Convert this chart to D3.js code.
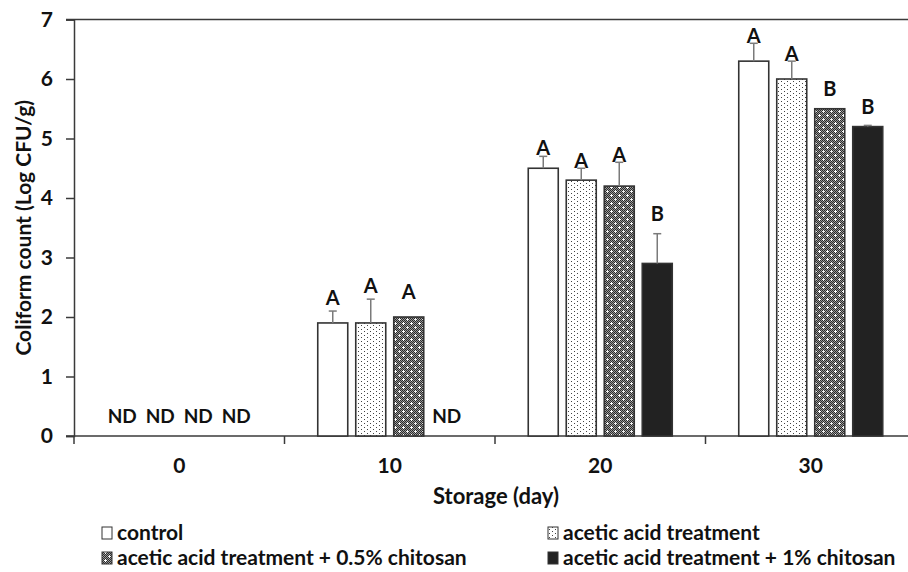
<!DOCTYPE html>
<html><head><meta charset="utf-8">
<script src="https://cdn.jsdelivr.net/npm/d3@7"></script>
<style>
html,body{margin:0;padding:0;background:#fff;}
svg{display:block;}
text{font-family:Lato,"Open Sans",sans-serif;font-weight:bold;fill:#111;}
</style></head><body>
<svg id="c" width="908" height="572"></svg>
<script>
// ---- data ----
const days = ["0", "10", "20", "30"];
const series = ["control", "acetic acid treatment", "acetic acid treatment + 0.5% chitosan", "acetic acid treatment + 1% chitosan"];
// null = not detected (ND)
const control   = [null, 1.9, 4.5, 6.3];
const acetic    = [null, 1.9, 4.3, 6.0];
const chit05    = [null, 2.0, 4.2, 5.5];
const chit1     = [null, null, 2.9, 5.2];
const controlErr = [null, 0.2, 0.2, 0.3];
const aceticErr  = [null, 0.4, 0.2, 0.3];
const chit05Err  = [null, 0.0, 0.4, 0.0];
const chit1Err   = [null, null, 0.5, 0.02];
// significance letters and the level (log CFU/g) they sit at
const controlLetters = ["ND", "A", "A", "A"];
const aceticLetters  = ["ND", "A", "A", "A"];
const chit05Letters  = ["ND", "A", "A", "B"];
const chit1Letters   = ["ND", "ND", "B", "B"];
const controlLetterAt = [0, 2.20, 4.72, 6.60];
const aceticLetterAt  = [0, 2.41, 4.50, 6.31];
const chit05LetterAt  = [0, 2.30, 4.60, 5.72];
const chit1LetterAt   = [0, 0, 3.61, 5.42];
const yTicks = [0, 1, 2, 3, 4, 5, 6, 7];
const yTitle = "Coliform count (Log CFU/g)";
const xTitle = "Storage (day)";

(function () {
const values = [control, acetic, chit05, chit1];
const errs = [controlErr, aceticErr, chit05Err, chit1Err];
const letters = [controlLetters, aceticLetters, chit05Letters, chit1Letters];
const letterAt = [controlLetterAt, aceticLetterAt, chit05LetterAt, chit1LetterAt];

const svg = d3.select("#c");
const pLeft = 74, pRight = 916, pTop = 19.5, pBottom = 436;
const axisColor = "#3a3a3a";

const x0 = d3.scaleBand().domain(days).range([pLeft, pRight]);
const x1 = d3.scaleBand().domain(series).range([0, x0.bandwidth()]).paddingInner(8/38).paddingOuter(0.875);
const y = d3.scaleLinear().domain([0, 7]).range([pBottom, pTop]);

// ---- patterns ----
const defs = svg.append("defs");
const pDots = defs.append("pattern").attr("id", "dots").attr("patternUnits", "userSpaceOnUse")
  .attr("width", 6).attr("height", 4);
pDots.append("rect").attr("width", 6).attr("height", 4).attr("fill", "#fff");
pDots.append("rect").attr("x", 1).attr("y", 1).attr("width", 1).attr("height", 1).attr("fill", "#444");
pDots.append("rect").attr("x", 4).attr("y", 3).attr("width", 1).attr("height", 1).attr("fill", "#444");

const pChk = defs.append("pattern").attr("id", "chk").attr("patternUnits", "userSpaceOnUse")
  .attr("width", 8).attr("height", 8);
pChk.append("rect").attr("width", 8).attr("height", 8).attr("fill", "#9a9a9a");
const cells = [];
for (let i = 0; i < 8; i++) for (let j = 0; j < 8; j++) if ((i + j) % 2 === 0) cells.push([i, j]);
pChk.selectAll("rect.c").data(cells).enter().append("rect").attr("class", "c")
  .attr("x", d => d[0]).attr("y", d => d[1]).attr("width", 1).attr("height", 1).attr("fill", "#2a2a2a");
const plus = [[3,2],[2,3],[3,3],[4,3],[3,4]];
pChk.selectAll("rect.p").data(plus).enter().append("rect").attr("class", "p")
  .attr("x", d => d[0]).attr("y", d => d[1]).attr("width", 1).attr("height", 1).attr("fill", "#fff");
const plus2 = [[7,6],[6,7],[7,7],[0,7],[7,0]];
pChk.selectAll("rect.q").data(plus2).enter().append("rect").attr("class", "q")
  .attr("x", d => d[0]).attr("y", d => d[1]).attr("width", 1).attr("height", 1).attr("fill", "#eee");

const fills = ["#ffffff", "url(#dots)", "url(#chk)", "#222222"];

// ---- axes ----
svg.append("line").attr("x1", 66).attr("x2", 908).attr("y1", y(7)).attr("y2", y(7))
  .attr("stroke", axisColor).attr("stroke-width", 1.5);

const yAxis = svg.append("g").attr("transform", `translate(${pLeft},0)`)
  .call(d3.axisLeft(y).tickValues(yTicks).tickSize(8).tickPadding(13).tickFormat(d3.format("d")));
yAxis.select(".domain").attr("stroke", axisColor).attr("stroke-width", 1.5);
yAxis.selectAll(".tick line").attr("stroke", axisColor).attr("stroke-width", 1.5);
yAxis.selectAll(".tick text").attr("font-size", 21).attr("font-family", "Lato").attr("font-weight", "bold").attr("fill", "#111");

const xAxis = svg.append("g").attr("transform", `translate(0,${pBottom})`)
  .call(d3.axisBottom(x0).tickSize(0).tickPadding(22));
xAxis.select(".domain").remove();
xAxis.selectAll(".tick text").attr("font-size", 21).attr("font-family", "Lato").attr("font-weight", "bold").attr("fill", "#111");
svg.append("line").attr("x1", 66).attr("x2", 908).attr("y1", pBottom).attr("y2", pBottom)
  .attr("stroke", axisColor).attr("stroke-width", 1.5);
svg.selectAll("line.bt").data(days).enter().append("line").attr("class", "bt")
  .attr("x1", d => x0(d)).attr("x2", d => x0(d)).attr("y1", pBottom).attr("y2", pBottom + 8)
  .attr("stroke", axisColor).attr("stroke-width", 1.5);

// ---- bars ----
const flat = [];
days.forEach((d, di) => series.forEach((s, si) => {
  flat.push({day: d, s, si, v: values[si][di], e: errs[si][di], l: letters[si][di], la: letterAt[si][di]});
}));
const bars = flat.filter(d => d.v !== null);
const cx = d => x0(d.day) + x1(d.s) + x1.bandwidth() / 2;

svg.append("g").selectAll("rect").data(bars).enter().append("rect")
  .attr("x", d => x0(d.day) + x1(d.s)).attr("width", x1.bandwidth())
  .attr("y", d => y(d.v)).attr("height", d => y(0) - y(d.v))
  .attr("fill", d => fills[d.si]).attr("stroke", "#333").attr("stroke-width", 1.6);

const eb = svg.append("g").selectAll("g").data(bars.filter(d => d.e > 0)).enter().append("g");
eb.append("line").attr("x1", cx).attr("x2", cx)
  .attr("y1", d => y(d.v)).attr("y2", d => y(d.v + d.e))
  .attr("stroke", "#7a7a7a").attr("stroke-width", 1.5);
eb.append("line").attr("x1", d => cx(d) - 4).attr("x2", d => cx(d) + 4)
  .attr("y1", d => y(d.v + d.e)).attr("y2", d => y(d.v + d.e))
  .attr("stroke", "#7a7a7a").attr("stroke-width", 1.5);

svg.append("g").selectAll("text").data(flat.filter(d => d.l !== "ND")).enter().append("text")
  .attr("x", cx).attr("y", d => y(d.la))
  .attr("text-anchor", "middle").attr("font-size", 20).text(d => d.l);
svg.append("g").selectAll("text").data(flat.filter(d => d.l === "ND")).enter().append("text")
  .attr("x", cx).attr("y", y(0) - 13)
  .attr("text-anchor", "middle").attr("font-size", 19).text(d => d.l);

svg.append("text").attr("transform", `translate(31,${(pTop + pBottom) / 2}) rotate(-90)`)
  .attr("text-anchor", "middle").attr("font-size", 21).text(yTitle);
svg.append("text").attr("x", 496).attr("y", 504).attr("text-anchor", "middle")
  .attr("font-size", 22).text(xTitle);

const legX = [102, 548], legY = [540, 565];
const leg = svg.append("g").selectAll("g").data(series).enter().append("g")
  .attr("transform", (d, i) => `translate(${legX[i % 2]},${legY[Math.floor(i / 2)]})`);
leg.append("rect").attr("x", 0).attr("y", -13).attr("width", 10).attr("height", 12)
  .attr("fill", (d, i) => fills[i]).attr("stroke", "#333").attr("stroke-width", 1);
leg.append("text").attr("x", 15).attr("y", 0).attr("font-size", 21).text(d => d);
})();
</script>
</body></html>
